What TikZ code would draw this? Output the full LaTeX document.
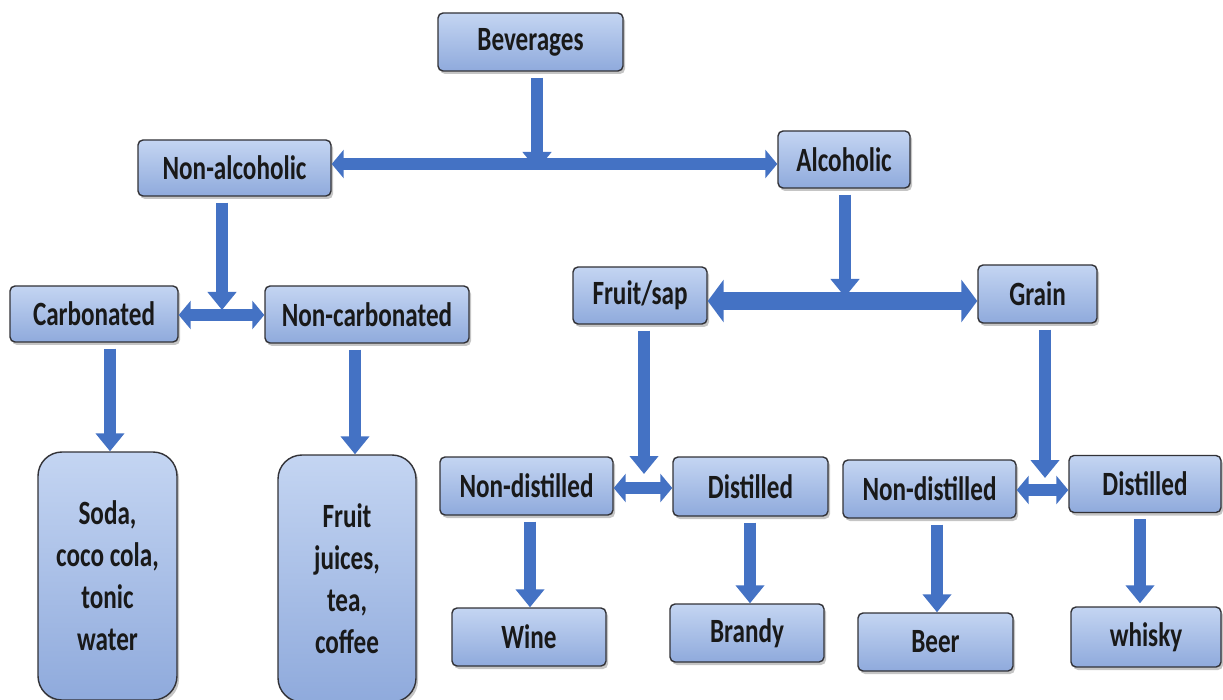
\documentclass[tikz,border=0pt]{standalone}
\usepackage{fontspec}
\setmainfont{Carlito}[FakeStretch=0.74]
\usetikzlibrary{arrows.meta,shadows}
\definecolor{arrowblue}{RGB}{68,114,196}
\definecolor{boxtop}{RGB}{196,213,242}
\definecolor{boxbot}{RGB}{143,170,220}
\definecolor{boxline}{RGB}{50,50,55}
\tikzset{
  box/.style={rectangle, rounded corners=5pt, draw=boxline, line width=1.4pt,
    top color=boxtop, bottom color=boxbot, text=black!90,
    font=\fontsize{34}{42}\selectfont\bfseries, align=center, inner sep=0pt,
    drop shadow={shadow xshift=2pt, shadow yshift=-3pt, fill=black!45, opacity=0.5}},
  bigbox/.style={box, rounded corners=24pt},
  arr/.style={draw=arrowblue, line width=12pt, -{Triangle[width=28pt,length=18pt]}, shorten <=6pt},
  dbl/.style={draw=arrowblue, line width=12pt, {Triangle[width=28pt,length=12pt]}-{Triangle[width=28pt,length=12pt]}},
  bigdbl/.style={draw=arrowblue, line width=18pt, {Triangle[width=42pt,length=16pt]}-{Triangle[width=42pt,length=16pt]}}
}
\begin{document}
\begin{tikzpicture}[x=1pt,y=-1pt]
\useasboundingbox (0,0) rectangle (1223,700);
% nodes
\node[box, minimum width=185pt, minimum height=58pt] (bev) at (530.5,42) {Beverages};
\node[box, minimum width=193pt, minimum height=56pt] (nonalc) at (234.5,168) {Non-alcoholic};
\node[box, minimum width=132pt, minimum height=57pt] (alc) at (844,159.5) {Alcoholic};
\node[box, minimum width=168pt, minimum height=56pt] (carb) at (94,314) {Carbonated};
\node[box, minimum width=204pt, minimum height=57pt] (noncarb) at (367,314.5) {Non-carbonated};
\node[box, minimum width=134pt, minimum height=57pt] (fruit) at (640,295.5) {Fruit/sap};
\node[box, minimum width=119pt, minimum height=58pt] (grain) at (1037.5,294) {Grain};
\node[box, minimum width=173pt, minimum height=58pt] (nd1) at (526.5,486) {Non-distilled};
\node[box, minimum width=155pt, minimum height=59pt] (d1) at (750.5,486.5) {Distilled};
\node[box, minimum width=173pt, minimum height=58pt] (nd2) at (929.5,489) {Non-distilled};
\node[box, minimum width=152pt, minimum height=57pt] (d2) at (1145,484) {Distilled};
\node[bigbox, minimum width=139pt, minimum height=248pt] (soda) at (107.5,576) {Soda,\\coco cola,\\tonic\\water};
\node[bigbox, minimum width=138pt, minimum height=247pt] (juice) at (347,578.5) {Fruit\\juices,\\tea,\\coffee};
\node[box, minimum width=154pt, minimum height=58pt] (wine) at (529,637) {Wine};
\node[box, minimum width=154pt, minimum height=58pt] (brandy) at (747,633) {Brandy};
\node[box, minimum width=155pt, minimum height=58pt] (beer) at (935.5,642) {Beer};
\node[box, minimum width=150pt, minimum height=60pt] (whisky) at (1146,637) {whisky};
% junction coordinates
\coordinate (tb) at (537,170);
\coordinate (y1) at (0,164);
\coordinate (tna) at (222,310);
\coordinate (y2) at (0,315);
\coordinate (tal) at (845,297);
\coordinate (y3) at (0,301);
\coordinate (tfs) at (644,474);
\coordinate (y4) at (0,488);
\coordinate (tgr) at (1045,478);
\coordinate (y5) at (0,490);
\coordinate (xs) at (110,0);
\coordinate (xj) at (355,0);
\coordinate (xw) at (530,0);
\coordinate (xbr) at (750,0);
\coordinate (xbe) at (937,0);
\coordinate (xwh) at (1140,0);
% horizontal double arrows
\draw[dbl] (nonalc.east |- y1) -- (alc.west |- y1);
\draw[dbl] (carb.east |- y2) -- (noncarb.west |- y2);
\draw[bigdbl] (fruit.east |- y3) -- (grain.west |- y3);
\draw[dbl] (nd1.east |- y4) -- (d1.west |- y4);
\draw[dbl] (nd2.east |- y5) -- (d2.west |- y5);
% vertical arrows onto bars
\draw[arr] (bev.south -| tb) -- (tb);
\draw[arr] (nonalc.south -| tna) -- (tna);
\draw[arr] (alc.south -| tal) -- (tal);
\draw[arr] (fruit.south -| tfs) -- (tfs);
\draw[arr] (grain.south -| tgr) -- (tgr);
% vertical arrows to leaves
\draw[arr] (carb.south -| xs) -- (soda.north -| xs);
\draw[arr] (noncarb.south -| xj) -- (juice.north -| xj);
\draw[arr] (nd1.south -| xw) -- (wine.north -| xw);
\draw[arr] (d1.south -| xbr) -- (brandy.north -| xbr);
\draw[arr] (nd2.south -| xbe) -- (beer.north -| xbe);
\draw[arr, shorten >=3pt] (d2.south -| xwh) -- (whisky.north -| xwh);
\end{tikzpicture}
\end{document}
